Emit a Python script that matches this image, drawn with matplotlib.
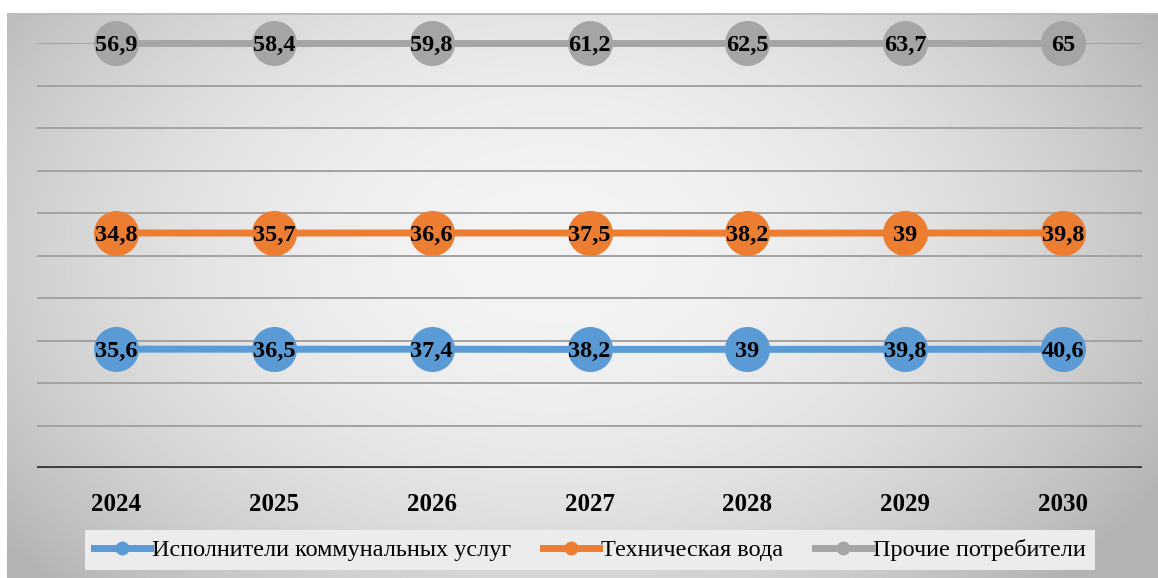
import numpy as np
import matplotlib.pyplot as plt
from matplotlib.lines import Line2D

plt.rcParams['font.family'] = ['Liberation Serif', 'DejaVu Serif']

years = ['2024', '2025', '2026', '2027', '2028', '2029', '2030']
utilities = [35.6, 36.5, 37.4, 38.2, 39.0, 39.8, 40.6]
tech_water = [34.8, 35.7, 36.6, 37.5, 38.2, 39.0, 39.8]
other = [56.9, 58.4, 59.8, 61.2, 62.5, 63.7, 65.0]

series = [
    ('Исполнители коммунальных услуг', utilities, '#5b9bd5'),
    ('Техническая вода', tech_water, '#ed7d31'),
    ('Прочие потребители', other, '#a5a5a5'),
]

def fmt(v):
    s = f'{v:.1f}'.replace('.', ',')
    return s[:-2] if s.endswith(',0') else s

W, H = 1158, 578
fig = plt.figure(figsize=(W / 100, H / 100), dpi=100)
fig.patch.set_facecolor('white')

# grey gradient behind the chart, light in the middle
bg = fig.add_axes([7 / W, 0, 1 - 7 / W, 1 - 13 / H])
bg.set_axis_off()
yy, xx = np.mgrid[1:-1:300j, -1:1:600j]
shade = 0.955 - 0.17 * (xx + 0.05) ** 2 - 0.09 * (yy - 0.15) ** 2
shade = np.clip(shade, 0.7, 1)
bg.imshow(shade, cmap='gray', vmin=0, vmax=1, aspect='auto', extent=[0, 1, 0, 1])
bg.plot([0, 1], [1, 1], color='#bcbcbc', lw=2, transform=bg.transAxes)

ax = fig.add_axes([37 / W, (H - 468) / H, (1142 - 37) / W, (468 - 43) / H])
ax.patch.set_alpha(0)
x = np.arange(len(years))

# 100% stacked lines
totals = np.array(utilities) + np.array(tech_water) + np.array(other)
cum = np.zeros(len(years))
for name, vals, col in series:
    cum = cum + np.array(vals)
    share = cum / totals
    ax.plot(x, share, color=col, lw=5, zorder=3, solid_capstyle='butt', clip_on=False)
    ax.scatter(x, share, s=45 ** 2 * 0.52, color=col, zorder=4, clip_on=False, linewidths=0)
    for xi, yi, v in zip(x, share, vals):
        ax.text(xi, yi, fmt(v), ha='center', va='center_baseline', fontsize=17.5,
                fontweight='bold', color='black', zorder=5)

for g in np.arange(0.1, 1.01, 0.1):
    ax.axhline(g, color='#a2a2a2', lw=1.4, zorder=1)
ax.axhline(0, color='#3c3c3c', lw=2.8, zorder=2)

ax.set_xlim(-0.5, len(years) - 0.5)
ax.set_ylim(0, 1)
ax.set_yticks([])
ax.set_xticks(x)
ax.set_xticklabels(years, fontsize=18, fontweight='bold')
ax.tick_params(axis='x', length=0, pad=18)
for sp in ax.spines.values():
    sp.set_visible(False)

handles = [Line2D([], [], color=col, lw=5, marker='o', markersize=9)
           for _, _, col in series]
leg = fig.legend(handles, [s[0] for s in series], loc='center',
                 bbox_to_anchor=(590 / W, (H - 550) / H), ncol=3, fontsize=17.5,
                 frameon=True, fancybox=False, handlelength=2.3, handletextpad=0.1,
                 columnspacing=1.3, borderpad=0.35, borderaxespad=0)
leg.get_frame().set_facecolor('#ececec')
leg.get_frame().set_edgecolor('none')
leg.get_frame().set_alpha(1)

fig.savefig('out.png', dpi=100)
